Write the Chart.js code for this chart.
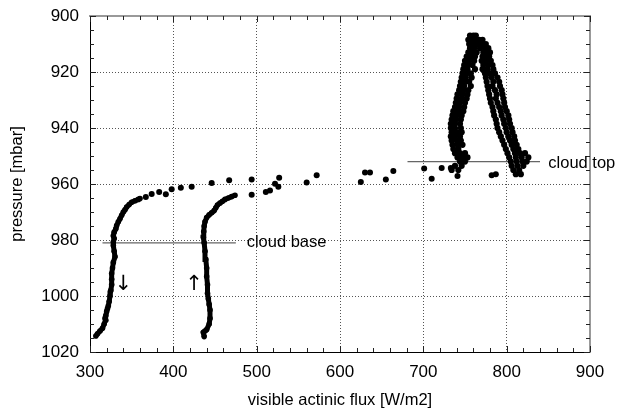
<!DOCTYPE html>
<html>
<head>
<meta charset="utf-8">
<script src="https://cdn.jsdelivr.net/npm/chart.js@4/dist/chart.umd.min.js"></script>
<style>
  body { margin: 0; background: #fff; }
  #wrap { width: 618px; height: 413px; }
</style>
</head>
<body>
<div id="wrap"><canvas id="myChart" width="618" height="413"></canvas></div>
<script>
// descent profile (flux W/m2, pressure mbar), top to bottom
const descentX = [360, 358, 354, 350, 347, 344, 342, 340, 338, 336, 334, 332, 331, 329, 328, 329, 328, 328, 329, 330, 328, 327, 326, 326, 326, 325, 324, 323, 322, 321, 320, 319, 318, 319, 317, 315, 312, 309, 307];
const descentY = [965.2, 965.5, 966, 966.5, 967.3, 968.2, 969.2, 970, 971.2, 972.4, 973.5, 974.8, 976, 977.2, 978.5, 979.5, 980.7, 982, 984, 986, 988, 990, 992, 994, 996, 998, 1000, 1002, 1003.5, 1004.5, 1005.5, 1007, 1008, 1008.7, 1010, 1011.5, 1012.5, 1013.5, 1014.3];

// ascent profile, bottom to top
const ascentX = [437, 436, 438, 440, 443, 444, 444, 443, 442, 441, 441, 440, 440, 439, 438, 437, 436, 436.5, 437, 438, 440, 443, 446, 449, 451, 453, 456, 459, 462, 466, 470, 474];
const ascentY = [1014.5, 1013, 1012.5, 1012, 1010, 1008, 1005, 1003, 1001, 999, 996, 993, 990, 987, 984, 981, 979, 977, 975, 973.5, 972, 971, 970.3, 969.5, 968.5, 967.5, 966.8, 966.2, 965.5, 965, 964.5, 964];

// isolated points between the profiles and the cloud
const scatterX = [367, 374, 383, 391, 398, 409, 422, 446, 467, 494, 494, 511, 516, 522, 527, 526, 560, 572, 625, 630, 636, 655, 664, 701, 710, 722, 733, 741, 782, 787];
const scatterY = [964.6, 963.6, 962.9, 963.7, 961.9, 961.3, 961, 959.6, 958.7, 958.4, 963.8, 962.9, 962.3, 959.9, 957.8, 961, 959.5, 956.9, 959.3, 955.9, 955.9, 958.4, 955.4, 954.5, 958.1, 954.3, 954.3, 957.1, 956.9, 956.5];

// in-cloud points: pressure level and the flux values read at that level
const cloudP = [907, 908.5, 910, 911.5, 913, 914.5, 916, 917.5, 919, 920.5, 922, 923.5, 925, 926.5, 928, 929.5, 931, 932.5, 934, 935.5, 937, 938.5, 940, 941.5, 943, 944.5, 946, 947.5, 949, 950.5, 952, 953.5, 955, 956.5];
const cloudF = [
  [756, 760, 763],
  [754, 758, 762, 767, 771],
  [755, 760, 765, 770, 775],
  [756, 761, 768, 774, 778],
  [754, 758, 764, 772, 777, 780],
  [752, 757, 762, 771, 776, 779],
  [750, 755, 761, 770, 775, 781],
  [749, 754, 759, 772, 778, 783],
  [748, 753, 762, 771, 777, 784],
  [747, 752, 757, 774, 780, 786],
  [746, 751, 758, 775, 782, 789],
  [745, 750, 755, 776, 784, 791],
  [744, 749, 757, 777, 783, 792],
  [743, 748, 754, 778, 786, 794],
  [741, 747, 753, 779, 788, 795],
  [740, 746, 752, 780, 787, 796],
  [739, 744, 750, 781, 789, 797],
  [738, 743, 749, 783, 791, 798],
  [736, 742, 748, 784, 793, 800],
  [735, 740, 746, 785, 794, 802],
  [734, 739, 745, 787, 796, 803],
  [733, 738, 744, 788, 797, 804],
  [733, 738, 745, 789, 799, 806],
  [734, 740, 746, 791, 800, 807],
  [733, 738, 744, 793, 802, 809],
  [734, 740, 745, 795, 804, 810],
  [735, 741, 747, 797, 806, 812],
  [736, 742, 799, 808, 814],
  [738, 744, 750, 801, 810, 816, 822],
  [741, 747, 753, 803, 811, 818, 826],
  [744, 750, 805, 812, 819, 824],
  [738, 746, 806, 813, 820],
  [734, 742, 808, 815],
  [811, 817]
];

// cloud base / top markers
const cloudBaseX = [315, 475];
const cloudBaseY = 981;
const cloudTopX = [681, 840];
const cloudTopY = 952;

const xTicks = [300, 400, 500, 600, 700, 800, 900];
const yTicks = [900, 920, 940, 960, 980, 1000, 1020];

function pts(xs, ys) {
  return xs.map((x, i) => ({ x: x, y: ys[i] }));
}
const cloudPts = [];
cloudP.forEach((p, i) => cloudF[i].forEach(f => cloudPts.push({ x: f, y: p })));

const FONT = "'Liberation Sans', Arial, sans-serif";

// inner minor ticks on all four sides + text labels
const extras = {
  id: 'extras',
  afterDraw: chart => {
    const ctx = chart.ctx;
    const xs = chart.scales.x, ys = chart.scales.y;
    const a = chart.chartArea;
    ctx.save();
    ctx.strokeStyle = '#222';
    ctx.lineWidth = 1;
    ctx.beginPath();
    for (let v = xs.min; v <= xs.max; v += 20) {
      const px = Math.round(xs.getPixelForValue(v)) + 0.5;
      const len = v % 100 === 0 ? 6 : 4;
      ctx.moveTo(px, a.bottom); ctx.lineTo(px, a.bottom - len);
      ctx.moveTo(px, a.top); ctx.lineTo(px, a.top + len);
    }
    for (let v = ys.min; v <= ys.max; v += 5) {
      const py = Math.round(ys.getPixelForValue(v)) + 0.5;
      const len = v % 20 === 0 ? 6 : 4;
      ctx.moveTo(a.left, py); ctx.lineTo(a.left + len, py);
      ctx.moveTo(a.right, py); ctx.lineTo(a.right - len, py);
    }
    ctx.stroke();

    ctx.fillStyle = '#000';
    ctx.font = '16.5px ' + FONT;
    ctx.textBaseline = 'middle';
    ctx.textAlign = 'left';
    ctx.fillText('cloud base', xs.getPixelForValue(488), ys.getPixelForValue(cloudBaseY));
    ctx.fillText('cloud top', xs.getPixelForValue(850), ys.getPixelForValue(cloudTopY + 0.5));
    ctx.textAlign = 'center';
    ctx.font = '21px "DejaVu Sans", sans-serif';
    ctx.fillText('\u2193', xs.getPixelForValue(340), ys.getPixelForValue(996));
    ctx.fillText('\u2191', xs.getPixelForValue(425), ys.getPixelForValue(996));
    ctx.restore();
  }
};

const profileStyle = {
  showLine: true,
  borderColor: '#000',
  backgroundColor: '#000',
  borderWidth: 5,
  pointRadius: 2.8,
  pointBorderWidth: 0,
  tension: 0
};

const data = {
  datasets: [
    Object.assign({ label: 'descent', data: pts(descentX, descentY) }, profileStyle),
    Object.assign({ label: 'ascent', data: pts(ascentX, ascentY) }, profileStyle),
    {
      label: 'scatter',
      data: pts(scatterX, scatterY),
      backgroundColor: '#000',
      pointRadius: 3,
      pointBorderWidth: 0
    },
    {
      label: 'cloud',
      data: cloudPts,
      backgroundColor: '#000',
      pointRadius: 3.1,
      pointBorderWidth: 0
    },
    {
      label: 'cloud base',
      data: cloudBaseX.map(x => ({ x: x, y: cloudBaseY })),
      showLine: true,
      borderColor: '#666',
      borderWidth: 1.3,
      pointRadius: 0
    },
    {
      label: 'cloud top',
      data: cloudTopX.map(x => ({ x: x, y: cloudTopY })),
      showLine: true,
      borderColor: '#666',
      borderWidth: 1.3,
      pointRadius: 0
    }
  ]
};

const config = {
  type: 'scatter',
  data: data,
  options: {
    responsive: false,
    animation: false,
    devicePixelRatio: 1,
    layout: { padding: { top: 16, right: 28, left: 0, bottom: 0 } },
    plugins: { legend: { display: false }, tooltip: { enabled: false } },
    scales: {
      x: {
        type: 'linear',
        position: 'bottom',
        min: 300,
        max: 900,
        afterBuildTicks: s => { s.ticks = xTicks.map(v => ({ value: v })); },
        afterFit: s => { s.height = 61; s.paddingLeft = 0; s.paddingRight = 0; },
        ticks: { color: '#000', padding: 10, maxRotation: 0, font: { family: FONT, size: 17 }, callback: v => String(v) },
        grid: { color: '#555', lineWidth: 1, drawTicks: false },
        border: { color: '#000', width: 1, dash: [1, 2] },
        title: {
          display: true,
          text: 'visible actinic flux [W/m2]',
          color: '#000',
          font: { family: FONT, size: 16.5 },
          padding: { top: 0, bottom: 3 }
        }
      },
      y: {
        type: 'linear',
        position: 'left',
        reverse: true,
        min: 900,
        max: 1020,
        afterBuildTicks: s => { s.ticks = yTicks.map(v => ({ value: v })); },
        afterFit: s => { s.width = 90; s.paddingTop = 0; s.paddingBottom = 0; },
        ticks: { color: '#000', padding: 11, font: { family: FONT, size: 17 }, callback: v => String(v) },
        grid: { color: '#555', lineWidth: 1, drawTicks: false },
        border: { color: '#000', width: 1, dash: [1, 2] },
        title: {
          display: true,
          text: 'pressure [mbar]',
          color: '#000',
          font: { family: FONT, size: 16.5 },
          padding: { top: 8, bottom: 0 }
        }
      },
      x2: {
        type: 'linear',
        position: 'top',
        min: 300,
        max: 900,
        ticks: { display: false },
        grid: { display: false, drawTicks: false },
        border: { color: '#999', width: 2 },
        afterFit: s => { s.height = 0; s.paddingLeft = 0; s.paddingRight = 0; }
      },
      y2: {
        type: 'linear',
        position: 'right',
        min: 900,
        max: 1020,
        ticks: { display: false },
        grid: { display: false, drawTicks: false },
        border: { color: '#999', width: 2 },
        afterFit: s => { s.width = 0; s.paddingTop = 0; s.paddingBottom = 0; }
      }
    }
  },
  plugins: [extras]
};

const myChart = new Chart(document.getElementById('myChart'), config);
</script>
</body>
</html>
